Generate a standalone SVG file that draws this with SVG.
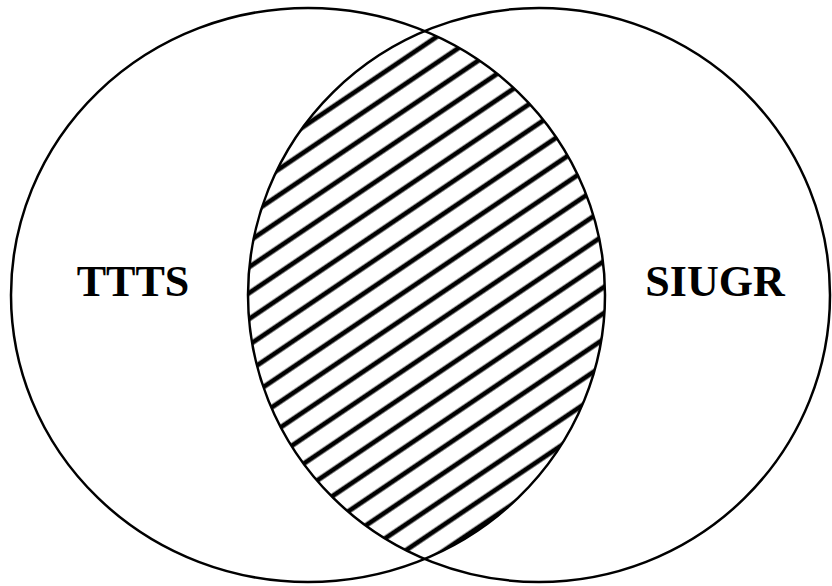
<svg xmlns="http://www.w3.org/2000/svg" width="832" height="586" viewBox="0 0 832 586">
  <style>
    .circle { fill: none; stroke: #000; stroke-width: 2.5; }
    .label { font-family: "Liberation Serif", "Times New Roman", serif; font-weight: bold; font-size: 44px; fill: #000; text-anchor: middle; }
  </style>
  <defs>
    <pattern id="hatch" patternUnits="userSpaceOnUse" width="21.5" height="21.5" patternTransform="rotate(-34)">
      <rect x="0" y="14.3" width="21.5" height="4.8" fill="#000"/>
    </pattern>
    <clipPath id="leftClip">
      <ellipse cx="308" cy="295" rx="297" ry="287"/>
    </clipPath>
  </defs>
  <rect width="832" height="586" fill="#fff"/>
  <g id="intersection">
    <ellipse cx="539" cy="295" rx="291" ry="287" fill="url(#hatch)" clip-path="url(#leftClip)"/>
  </g>
  <g id="TTTS">
    <ellipse class="circle" cx="308" cy="295" rx="297" ry="287"/>
    <text class="label" x="133" y="296">TTTS</text>
  </g>
  <g id="SIUGR">
    <ellipse class="circle" cx="539" cy="295" rx="291" ry="287"/>
    <text class="label" x="715" y="296">SIUGR</text>
  </g>
  <g id="connectors"></g>
</svg>
